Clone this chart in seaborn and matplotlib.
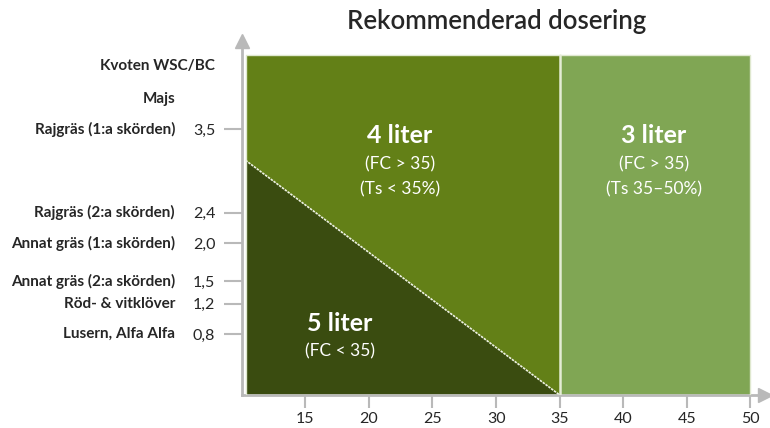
import matplotlib
import matplotlib.pyplot as plt
import numpy as np
import pandas as pd
import seaborn as sns

matplotlib.use("Agg")

# dosing zones (x = FC, y = WSC/BC ratio)
x_min, x_split, x_max = 10.3, 35, 50
y_top = 4.47
diag_x = [10.3, 35]
diag_y = [3.09, 0.0]

crop_labels = [
    "Rajgräs (1:a skörden)",
    "Rajgräs (2:a skörden)",
    "Annat gräs (1:a skörden)",
    "Annat gräs (2:a skörden)",
    "Röd- & vitklöver",
    "Lusern, Alfa Alfa",
]
crop_ratio = [3.5, 2.4, 2.0, 1.5, 1.2, 0.8]
x_ticks = [15, 20, 25, 30, 35, 40, 45, 50]

zone_names = ["4 liter", "3 liter", "5 liter"]
zone_notes = [["(FC > 35)", "(Ts < 35%)"], ["(FC > 35)", "(Ts 35–50%)"], ["(FC < 35)"]]
zone_pos = [(22.45, 3.41), (42.4, 3.41), (17.7, 0.94)]

DARK = "#3a4c10"
MID = "#638017"
LIGHT = "#80a654"
AXIS = "#b9b9b9"

sns.set_style("white")
plt.rcParams["font.family"] = ["Lato", "DejaVu Sans"]

fig = plt.figure(figsize=(7.7, 4.28), dpi=100)
ax = fig.add_axes([241.7 / 770, 33 / 428, (765 - 241.7) / 770, 354 / 428])
ax.set_xlim(10, 51.14)
ax.set_ylim(0, 4.66)

# zones
ax.fill_between([x_min, x_split], [y_top, y_top], [0, 0], color=MID, lw=0, zorder=1)
ax.fill_between(diag_x, diag_y, [0, 0], color=DARK, lw=0, zorder=2)
ax.fill_between([x_split, x_max], [y_top, y_top], [0, 0], color=LIGHT, lw=0, zorder=1)
ax.plot([x_min, x_max, x_max, x_min, x_min], [0, 0, y_top, y_top, 0],
        color="#dfe8cf", lw=1, zorder=3)
ax.plot([x_split, x_split], [0, y_top], color="#e4ecd6", lw=1.8, zorder=3)
line_df = pd.DataFrame({"fc": diag_x, "ratio": diag_y})
sns.lineplot(data=line_df, x="fc", y="ratio", ax=ax, color="#eef2e4", lw=1.2,
             linestyle=(0, (1.5, 0.6)), zorder=4)

# zone labels
for name, notes, (zx, zy) in zip(zone_names, zone_notes, zone_pos):
    ax.text(zx, zy, name, color="white", fontsize=18, fontweight="bold",
            ha="center", va="center", zorder=5)
    for i, note in enumerate(notes):
        ax.text(zx, zy - 0.37 - 0.33 * i, note, color="white", fontsize=12.5,
                ha="center", va="center", zorder=5)

# axes styling
for side in ["top", "right"]:
    ax.spines[side].set_visible(False)
for side in ["left", "bottom"]:
    ax.spines[side].set_color(AXIS)
    ax.spines[side].set_linewidth(2)
ax.plot(1, 0, ">", color=AXIS, ms=10, transform=ax.transAxes, clip_on=False)
ax.plot(0, 1, "^", color=AXIS, ms=10, transform=ax.transAxes, clip_on=False)

ax.set_xticks(x_ticks)
ax.set_xticklabels([str(t) for t in x_ticks], fontsize=11.5)
ax.set_yticks(crop_ratio)
ax.set_yticklabels([f"{v:.1f}".replace(".", ",") for v in crop_ratio], fontsize=11.5)
ax.tick_params(axis="x", bottom=True, length=9, width=1.5, color=AXIS, pad=3)
ax.tick_params(axis="y", left=True, length=13, width=1.5, color=AXIS, pad=6)
ax.set_xlabel("")
ax.set_ylabel("")

for label, v in zip(crop_labels, crop_ratio):
    ax.annotate(label, xy=(0, v), xycoords=("axes fraction", "data"),
                xytext=(-48, 0), textcoords="offset points",
                ha="right", va="center", fontsize=11, fontweight="bold")
ax.annotate("Majs", xy=(0, 3.9), xycoords=("axes fraction", "data"),
            xytext=(-48, 0), textcoords="offset points",
            ha="right", va="center", fontsize=11, fontweight="bold")
ax.annotate("Kvoten WSC/BC", xy=(0, 4.33), xycoords=("axes fraction", "data"),
            xytext=(-19, 0), textcoords="offset points",
            ha="right", va="center", fontsize=11, fontweight="bold")

fig.text(497 / 770, 1 - 22 / 428, "Rekommenderad dosering", fontsize=18.5,
         fontweight="semibold", ha="center", va="center")

fig.savefig("out.png", dpi=100)
